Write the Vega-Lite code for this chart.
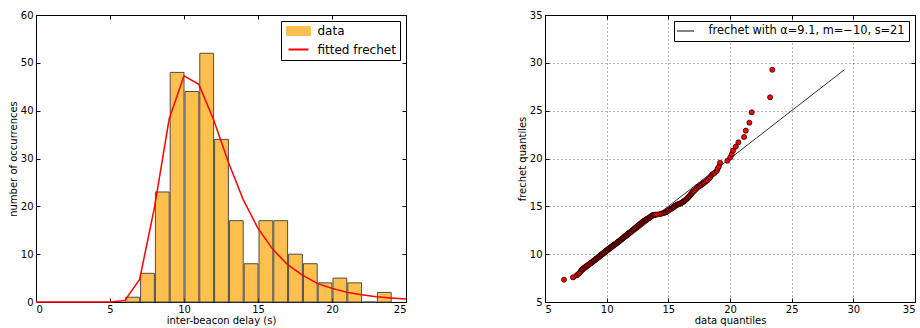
{
  "$schema": "https://vega.github.io/schema/vega-lite/v6.json",
  "background": "white",
  "autosize": {"type": "none"},
  "padding": {"left": 36, "top": 15, "right": 884, "bottom": 313},
  "spacing": 139,
  "bounds": "flush",
  "config": {
    "font": "DejaVu Sans",
    "view": {"stroke": "black", "strokeWidth": 1},
    "axis": {
      "domain": false,
      "grid": false,
      "tickColor": "black",
      "tickSize": -4,
      "tickWidth": 1,
      "labelFont": "DejaVu Sans",
      "labelFontSize": 10,
      "labelColor": "black",
      "labelPadding": 7,
      "titleFont": "DejaVu Sans",
      "titleFontSize": 10,
      "titleFontWeight": "normal",
      "titleColor": "black",
      "titlePadding": 2
    },
    "axisX": {"labelPadding": 6, "titlePadding": 1}
  },
  "datasets": {
    "hist": [
      {"bin_start": 6, "bin_end": 7, "count": 1},
      {"bin_start": 7, "bin_end": 8, "count": 6},
      {"bin_start": 8, "bin_end": 9, "count": 23},
      {"bin_start": 9, "bin_end": 10, "count": 48},
      {"bin_start": 10, "bin_end": 11, "count": 44},
      {"bin_start": 11, "bin_end": 12, "count": 52},
      {"bin_start": 12, "bin_end": 13, "count": 34},
      {"bin_start": 13, "bin_end": 14, "count": 17},
      {"bin_start": 14, "bin_end": 15, "count": 8},
      {"bin_start": 15, "bin_end": 16, "count": 17},
      {"bin_start": 16, "bin_end": 17, "count": 17},
      {"bin_start": 17, "bin_end": 18, "count": 10},
      {"bin_start": 18, "bin_end": 19, "count": 8},
      {"bin_start": 19, "bin_end": 20, "count": 4},
      {"bin_start": 20, "bin_end": 21, "count": 5},
      {"bin_start": 21, "bin_end": 22, "count": 4},
      {"bin_start": 22, "bin_end": 23, "count": 0},
      {"bin_start": 23, "bin_end": 24, "count": 2}
    ],
    "fit": [
      {"delay": 0, "occurrences": 0}, {"delay": 1, "occurrences": 0},
      {"delay": 2, "occurrences": 0}, {"delay": 3, "occurrences": 0},
      {"delay": 4, "occurrences": 0}, {"delay": 5, "occurrences": 0},
      {"delay": 6, "occurrences": 0.3}, {"delay": 7, "occurrences": 4.7},
      {"delay": 8, "occurrences": 19.7}, {"delay": 9, "occurrences": 38.3},
      {"delay": 10, "occurrences": 47.3}, {"delay": 11, "occurrences": 45.5},
      {"delay": 12, "occurrences": 38.1}, {"delay": 13, "occurrences": 29.2},
      {"delay": 14, "occurrences": 21.4}, {"delay": 15, "occurrences": 15.4},
      {"delay": 16, "occurrences": 11.0}, {"delay": 17, "occurrences": 7.8},
      {"delay": 18, "occurrences": 5.6}, {"delay": 19, "occurrences": 3.9},
      {"delay": 20, "occurrences": 2.85}, {"delay": 21, "occurrences": 2.05},
      {"delay": 22, "occurrences": 1.5}, {"delay": 23, "occurrences": 1.1},
      {"delay": 24, "occurrences": 0.85}, {"delay": 25, "occurrences": 0.62}
    ],
    "ref": [
      {"data_q": 7.33, "frechet_q": 7.33},
      {"data_q": 29.28, "frechet_q": 29.28}
    ],
    "qq": [
      {"data_q": 6.54, "frechet_q": 7.33}, {"data_q": 7.27, "frechet_q": 7.58},
      {"data_q": 7.57, "frechet_q": 7.79}, {"data_q": 7.7, "frechet_q": 7.92},
      {"data_q": 7.8, "frechet_q": 8.05}, {"data_q": 7.9, "frechet_q": 8.2},
      {"data_q": 7.98, "frechet_q": 8.38}, {"data_q": 8.05, "frechet_q": 8.45},
      {"data_q": 8.12, "frechet_q": 8.52}, {"data_q": 8.2, "frechet_q": 8.6},
      {"data_q": 8.28, "frechet_q": 8.67}, {"data_q": 8.36, "frechet_q": 8.75},
      {"data_q": 8.44, "frechet_q": 8.82}, {"data_q": 8.52, "frechet_q": 8.9},
      {"data_q": 8.6, "frechet_q": 8.97}, {"data_q": 8.68, "frechet_q": 9.05},
      {"data_q": 8.76, "frechet_q": 9.12}, {"data_q": 8.84, "frechet_q": 9.2},
      {"data_q": 8.92, "frechet_q": 9.28}, {"data_q": 8.98, "frechet_q": 9.33},
      {"data_q": 9.02, "frechet_q": 9.37}, {"data_q": 9.07, "frechet_q": 9.42},
      {"data_q": 9.12, "frechet_q": 9.48}, {"data_q": 9.17, "frechet_q": 9.53},
      {"data_q": 9.22, "frechet_q": 9.58}, {"data_q": 9.27, "frechet_q": 9.63},
      {"data_q": 9.32, "frechet_q": 9.69}, {"data_q": 9.37, "frechet_q": 9.74},
      {"data_q": 9.42, "frechet_q": 9.79}, {"data_q": 9.47, "frechet_q": 9.84},
      {"data_q": 9.52, "frechet_q": 9.9}, {"data_q": 9.57, "frechet_q": 9.95},
      {"data_q": 9.62, "frechet_q": 10.0}, {"data_q": 9.67, "frechet_q": 10.05},
      {"data_q": 9.72, "frechet_q": 10.1}, {"data_q": 9.77, "frechet_q": 10.16},
      {"data_q": 9.82, "frechet_q": 10.21}, {"data_q": 9.87, "frechet_q": 10.26},
      {"data_q": 9.92, "frechet_q": 10.31}, {"data_q": 9.97, "frechet_q": 10.37},
      {"data_q": 10.02, "frechet_q": 10.42}, {"data_q": 10.07, "frechet_q": 10.47},
      {"data_q": 10.12, "frechet_q": 10.52}, {"data_q": 10.17, "frechet_q": 10.56},
      {"data_q": 10.22, "frechet_q": 10.61}, {"data_q": 10.27, "frechet_q": 10.66},
      {"data_q": 10.32, "frechet_q": 10.7}, {"data_q": 10.37, "frechet_q": 10.75},
      {"data_q": 10.42, "frechet_q": 10.8}, {"data_q": 10.47, "frechet_q": 10.85},
      {"data_q": 10.52, "frechet_q": 10.9}, {"data_q": 10.57, "frechet_q": 10.94},
      {"data_q": 10.62, "frechet_q": 10.99}, {"data_q": 10.67, "frechet_q": 11.04},
      {"data_q": 10.72, "frechet_q": 11.09}, {"data_q": 10.77, "frechet_q": 11.13},
      {"data_q": 10.82, "frechet_q": 11.18}, {"data_q": 10.87, "frechet_q": 11.23},
      {"data_q": 10.92, "frechet_q": 11.28}, {"data_q": 10.97, "frechet_q": 11.32},
      {"data_q": 11.02, "frechet_q": 11.37}, {"data_q": 11.07, "frechet_q": 11.42},
      {"data_q": 11.12, "frechet_q": 11.48}, {"data_q": 11.17, "frechet_q": 11.53},
      {"data_q": 11.22, "frechet_q": 11.58}, {"data_q": 11.27, "frechet_q": 11.63},
      {"data_q": 11.32, "frechet_q": 11.69}, {"data_q": 11.37, "frechet_q": 11.74},
      {"data_q": 11.42, "frechet_q": 11.79}, {"data_q": 11.47, "frechet_q": 11.84},
      {"data_q": 11.52, "frechet_q": 11.9}, {"data_q": 11.57, "frechet_q": 11.95},
      {"data_q": 11.62, "frechet_q": 12.0}, {"data_q": 11.67, "frechet_q": 12.05},
      {"data_q": 11.72, "frechet_q": 12.1}, {"data_q": 11.77, "frechet_q": 12.16},
      {"data_q": 11.82, "frechet_q": 12.21}, {"data_q": 11.87, "frechet_q": 12.26},
      {"data_q": 11.92, "frechet_q": 12.31}, {"data_q": 11.97, "frechet_q": 12.37},
      {"data_q": 12.03, "frechet_q": 12.43}, {"data_q": 12.09, "frechet_q": 12.5},
      {"data_q": 12.15, "frechet_q": 12.56}, {"data_q": 12.21, "frechet_q": 12.62},
      {"data_q": 12.27, "frechet_q": 12.68}, {"data_q": 12.33, "frechet_q": 12.75},
      {"data_q": 12.39, "frechet_q": 12.81}, {"data_q": 12.45, "frechet_q": 12.87},
      {"data_q": 12.51, "frechet_q": 12.94}, {"data_q": 12.57, "frechet_q": 13.0},
      {"data_q": 12.63, "frechet_q": 13.06}, {"data_q": 12.69, "frechet_q": 13.13},
      {"data_q": 12.75, "frechet_q": 13.19}, {"data_q": 12.81, "frechet_q": 13.26},
      {"data_q": 12.87, "frechet_q": 13.32}, {"data_q": 12.93, "frechet_q": 13.4},
      {"data_q": 12.98, "frechet_q": 13.44}, {"data_q": 13.03, "frechet_q": 13.47},
      {"data_q": 13.09, "frechet_q": 13.52}, {"data_q": 13.15, "frechet_q": 13.57},
      {"data_q": 13.21, "frechet_q": 13.62}, {"data_q": 13.27, "frechet_q": 13.67},
      {"data_q": 13.33, "frechet_q": 13.72}, {"data_q": 13.39, "frechet_q": 13.77},
      {"data_q": 13.45, "frechet_q": 13.81}, {"data_q": 13.51, "frechet_q": 13.86},
      {"data_q": 13.57, "frechet_q": 13.92}, {"data_q": 13.63, "frechet_q": 14.0},
      {"data_q": 13.7, "frechet_q": 14.04}, {"data_q": 13.76, "frechet_q": 14.07},
      {"data_q": 13.83, "frechet_q": 14.09}, {"data_q": 13.9, "frechet_q": 14.11},
      {"data_q": 13.96, "frechet_q": 14.12}, {"data_q": 14.1, "frechet_q": 14.15},
      {"data_q": 14.33, "frechet_q": 14.2}, {"data_q": 14.45, "frechet_q": 14.24},
      {"data_q": 14.6, "frechet_q": 14.3}, {"data_q": 14.7, "frechet_q": 14.34},
      {"data_q": 14.8, "frechet_q": 14.38}, {"data_q": 14.87, "frechet_q": 14.44},
      {"data_q": 14.95, "frechet_q": 14.5}, {"data_q": 15.03, "frechet_q": 14.6},
      {"data_q": 15.1, "frechet_q": 14.66}, {"data_q": 15.2, "frechet_q": 14.72},
      {"data_q": 15.28, "frechet_q": 14.78}, {"data_q": 15.35, "frechet_q": 14.84},
      {"data_q": 15.41, "frechet_q": 14.9}, {"data_q": 15.47, "frechet_q": 14.97},
      {"data_q": 15.53, "frechet_q": 15.03}, {"data_q": 15.6, "frechet_q": 15.1},
      {"data_q": 15.66, "frechet_q": 15.14}, {"data_q": 15.72, "frechet_q": 15.18},
      {"data_q": 15.78, "frechet_q": 15.2}, {"data_q": 15.84, "frechet_q": 15.23},
      {"data_q": 15.9, "frechet_q": 15.26}, {"data_q": 15.96, "frechet_q": 15.29},
      {"data_q": 16.03, "frechet_q": 15.33}, {"data_q": 16.09, "frechet_q": 15.38},
      {"data_q": 16.15, "frechet_q": 15.43}, {"data_q": 16.21, "frechet_q": 15.48},
      {"data_q": 16.27, "frechet_q": 15.54}, {"data_q": 16.33, "frechet_q": 15.6},
      {"data_q": 16.39, "frechet_q": 15.66}, {"data_q": 16.45, "frechet_q": 15.73},
      {"data_q": 16.51, "frechet_q": 15.8}, {"data_q": 16.57, "frechet_q": 15.88},
      {"data_q": 16.63, "frechet_q": 15.96}, {"data_q": 16.69, "frechet_q": 16.05},
      {"data_q": 16.75, "frechet_q": 16.14}, {"data_q": 16.81, "frechet_q": 16.23},
      {"data_q": 16.87, "frechet_q": 16.32}, {"data_q": 16.93, "frechet_q": 16.42},
      {"data_q": 16.98, "frechet_q": 16.5}, {"data_q": 17.05, "frechet_q": 16.58},
      {"data_q": 17.17, "frechet_q": 16.7}, {"data_q": 17.27, "frechet_q": 16.85},
      {"data_q": 17.37, "frechet_q": 17.0}, {"data_q": 17.47, "frechet_q": 17.08},
      {"data_q": 17.57, "frechet_q": 17.15}, {"data_q": 17.66, "frechet_q": 17.24},
      {"data_q": 17.75, "frechet_q": 17.32}, {"data_q": 17.84, "frechet_q": 17.4},
      {"data_q": 17.93, "frechet_q": 17.5}, {"data_q": 18.05, "frechet_q": 17.62},
      {"data_q": 18.17, "frechet_q": 17.72}, {"data_q": 18.3, "frechet_q": 17.9},
      {"data_q": 18.4, "frechet_q": 18.05}, {"data_q": 18.52, "frechet_q": 18.28},
      {"data_q": 18.63, "frechet_q": 18.4}, {"data_q": 18.75, "frechet_q": 18.5},
      {"data_q": 18.93, "frechet_q": 18.7}, {"data_q": 19.0, "frechet_q": 18.95},
      {"data_q": 19.1, "frechet_q": 19.15}, {"data_q": 19.19, "frechet_q": 19.56},
      {"data_q": 19.79, "frechet_q": 19.77}, {"data_q": 20.02, "frechet_q": 20.1},
      {"data_q": 20.14, "frechet_q": 20.44}, {"data_q": 20.25, "frechet_q": 20.82},
      {"data_q": 20.47, "frechet_q": 21.24}, {"data_q": 20.68, "frechet_q": 21.69},
      {"data_q": 21.14, "frechet_q": 22.25}, {"data_q": 21.28, "frechet_q": 22.91},
      {"data_q": 21.57, "frechet_q": 23.74}, {"data_q": 21.76, "frechet_q": 24.83},
      {"data_q": 23.25, "frechet_q": 26.4}, {"data_q": 23.43, "frechet_q": 29.28}
    ]
  },
  "resolve": {"scale": {"color": "independent"}, "legend": {"color": "independent"}},
  "hconcat": [
    {
      "width": 370,
      "height": 287,
      "layer": [
        {
          "data": {"name": "hist"},
          "mark": {"type": "bar", "fill": "#ffc04d", "stroke": "#4d4d4d", "strokeWidth": 1},
          "encoding": {
            "x": {
              "field": "bin_start", "type": "quantitative",
              "bin": {"binned": true, "step": 1},
              "scale": {"domain": [0, 25], "nice": false, "zero": false},
              "axis": {"values": [0, 5, 10, 15, 20, 25], "title": "inter-beacon delay (s)", "format": "d"}
            },
            "x2": {"field": "bin_end"},
            "y": {
              "field": "count", "type": "quantitative",
              "scale": {"domain": [0, 60], "nice": false},
              "axis": {"values": [0, 10, 20, 30, 40, 50, 60], "title": "number of occurrences"}
            },
            "color": {
              "datum": "data",
              "scale": {"domain": ["data", "fitted frechet"], "range": ["#ffc04d", "red"]},
              "legend": {
                "title": null,
                "orient": "top-right",
                "offset": 6,
                "padding": 4,
                "rowPadding": 5.5,
                "strokeColor": "black",
                "fillColor": "white",
                "cornerRadius": 0,
                "labelFont": "DejaVu Sans",
                "labelFontSize": 12,
                "labelColor": "black",
                "symbolSize": 100,
                "symbolOffset": 7.5,
                "labelOffset": 13,
                "symbolType": {"expr": "datum.value === 'data' ? 'M-2.4,-0.9H2.4V0.9H-2.4Z' : 'M-2,0H2'"},
                "symbolStrokeColor": {"expr": "datum.value === 'data' ? '#4d4d4d' : 'red'"},
                "symbolStrokeWidth": {"expr": "datum.value === 'data' ? 1 : 2"}
              }
            }
          }
        },
        {
          "data": {"name": "fit"},
          "mark": {"type": "line", "strokeWidth": 1.5},
          "encoding": {
            "x": {
              "field": "delay", "type": "quantitative",
              "axis": {"orient": "top", "labels": false, "title": null, "values": [0, 5, 10, 15, 20, 25]}
            },
            "y": {
              "field": "occurrences", "type": "quantitative",
              "axis": {"orient": "right", "labels": false, "title": null, "values": [0, 10, 20, 30, 40, 50, 60]}
            },
            "color": {"datum": "fitted frechet"}
          }
        }
      ],
      "resolve": {"axis": {"x": "independent", "y": "independent"}}
    },
    {
      "width": 370,
      "height": 287,
      "layer": [
        {
          "data": {"name": "ref"},
          "mark": {"type": "line", "strokeWidth": 1},
          "encoding": {
            "x": {
              "field": "data_q", "type": "quantitative",
              "scale": {"domain": [5, 35], "nice": false, "zero": false},
              "axis": {"orient": "top", "labels": false, "title": null, "values": [5, 10, 15, 20, 25, 30, 35]}
            },
            "y": {
              "field": "frechet_q", "type": "quantitative",
              "scale": {"domain": [5, 35], "nice": false, "zero": false},
              "axis": {"orient": "right", "labels": false, "title": null, "values": [5, 10, 15, 20, 25, 30, 35]}
            },
            "color": {
              "datum": "frechet with α=9.1, m=−10, s=21",
              "scale": {"range": ["#333333"]},
              "legend": {
                "title": null,
                "orient": "top-right",
                "offset": 6,
                "padding": 4,
                "strokeColor": "black",
                "fillColor": "white",
                "cornerRadius": 0,
                "labelFont": "DejaVu Sans",
                "labelFontSize": 11.4,
                "labelColor": "black",
                "labelLimit": 400,
                "symbolSize": 100,
                "symbolOffset": 1.5,
                "labelOffset": 17,
                "symbolType": "M-1.7,0H1.7",
                "symbolStrokeWidth": 1.2
              }
            }
          }
        },
        {
          "data": {"name": "qq"},
          "mark": {"type": "point", "shape": "circle", "filled": true, "fill": "red", "stroke": "black", "strokeWidth": 0.7, "size": 26, "opacity": 1},
          "encoding": {
            "x": {
              "field": "data_q", "type": "quantitative",
              "axis": {
                "values": [5, 10, 15, 20, 25, 30, 35], "title": "data quantiles",
                "grid": true, "gridColor": "black", "gridOpacity": 0.6, "gridDash": [1, 3]
              }
            },
            "y": {
              "field": "frechet_q", "type": "quantitative",
              "axis": {
                "values": [5, 10, 15, 20, 25, 30, 35], "title": "frechet quantiles",
                "grid": true, "gridColor": "black", "gridOpacity": 0.6, "gridDash": [1, 3]
              }
            }
          }
        }
      ],
      "resolve": {"axis": {"x": "independent", "y": "independent"}}
    }
  ]
}
